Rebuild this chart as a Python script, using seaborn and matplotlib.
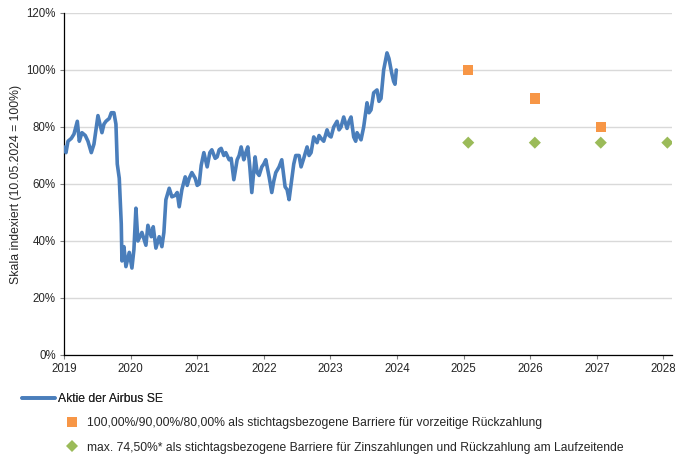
import numpy as np
import pandas as pd
import seaborn as sns
import matplotlib
matplotlib.use("Agg")
import matplotlib.pyplot as plt
from matplotlib.lines import Line2D

# ---- data ----
stock_year = [2019.00, 2019.03, 2019.06, 2019.11, 2019.15, 2019.20, 2019.23, 2019.27, 2019.32, 2019.36,
              2019.41, 2019.45, 2019.51, 2019.54, 2019.57, 2019.60, 2019.63, 2019.68, 2019.71, 2019.75,
              2019.78, 2019.80, 2019.83, 2019.86, 2019.87, 2019.90, 2019.93, 2019.98, 2020.02, 2020.05,
              2020.08, 2020.11, 2020.17, 2020.23, 2020.26, 2020.31, 2020.34, 2020.38, 2020.43, 2020.47,
              2020.50, 2020.53, 2020.58, 2020.62, 2020.67, 2020.70, 2020.73, 2020.77, 2020.82, 2020.85,
              2020.88, 2020.92, 2020.97, 2021.00, 2021.03, 2021.06, 2021.10, 2021.15, 2021.19, 2021.22,
              2021.27, 2021.30, 2021.33, 2021.36, 2021.40, 2021.43, 2021.48, 2021.51, 2021.55, 2021.60,
              2021.63, 2021.66, 2021.70, 2021.73, 2021.76, 2021.79, 2021.82, 2021.87, 2021.90, 2021.93,
              2021.97, 2022.00, 2022.03, 2022.08, 2022.12, 2022.15, 2022.18, 2022.23, 2022.27, 2022.32,
              2022.35, 2022.38, 2022.42, 2022.45, 2022.48, 2022.53, 2022.56, 2022.60, 2022.65, 2022.68,
              2022.71, 2022.75, 2022.80, 2022.83, 2022.86, 2022.90, 2022.95, 2022.98, 2023.01, 2023.05,
              2023.10, 2023.13, 2023.16, 2023.20, 2023.25, 2023.28, 2023.31, 2023.35, 2023.38, 2023.40,
              2023.46, 2023.50, 2023.55, 2023.58, 2023.61, 2023.65, 2023.70, 2023.73, 2023.76, 2023.80,
              2023.85, 2023.88, 2023.92, 2023.95, 2023.97, 2023.99]
stock_value = [73, 71, 75, 76, 77.5, 82, 75, 78, 77, 75,
               71, 74, 84, 81, 78, 81, 82, 83, 85, 85,
               81, 67, 62, 46, 33, 38, 31, 36, 30.5, 37,
               51.5, 40, 43, 38.5, 45.5, 41.5, 45, 37.5, 41.5, 38,
               43, 54.5, 58.5, 55.5, 56, 57, 52, 58, 62.5, 59.5,
               62, 64, 62, 59.5, 60, 66.5, 71, 66, 71, 72,
               69, 69.5, 72, 72.5, 70, 71, 68.5, 69, 61.5, 68.5,
               70, 73, 68.5, 71, 73, 66, 57, 69.5, 64, 63,
               66, 67, 68.5, 62.5, 57, 61, 64, 66, 68.5, 59,
               58, 54.5, 61.5, 67, 70, 70, 66, 69, 73, 70,
               71, 76.5, 74.5, 77, 76, 75, 79, 77, 76.5, 80,
               82, 79, 80, 83.5, 79.5, 82, 83.5, 76.5, 75, 78,
               75.5, 80, 88.5, 85, 86, 92, 93, 89, 90, 100,
               106, 104, 99, 96, 95, 100]

early_year = [2025.07, 2026.07, 2027.06]
early_value = [100, 90, 80]

coupon_year = [2025.07, 2026.07, 2027.06, 2028.06]
coupon_value = [74.5, 74.5, 74.5, 74.5]

x_ticks = [2019, 2020, 2021, 2022, 2023, 2024, 2025, 2026, 2027, 2028]
y_ticks = [0, 20, 40, 60, 80, 100, 120]

label_stock = "Aktie der Airbus SE"
label_early = "100,00%/90,00%/80,00% als stichtagsbezogene Barriere für vorzeitige Rückzahlung"
label_coupon = "max. 74,50%* als stichtagsbezogene Barriere für Zinszahlungen und Rückzahlung am Laufzeitende"
y_label = "Skala indexiert (10.05.2024 = 100%)"

# ---- styling ----
sns.set_theme(style="white")
plt.rcParams['font.family'] = ['Liberation Sans', 'DejaVu Sans']

blue = "#4A7EBB"
orange = "#F79646"
green = "#9BBB59"

fig = plt.figure(figsize=(6.75, 4.54), dpi=100)
ax = fig.add_axes([0.0948, 0.2181, 0.9008, 0.7533])

df_stock = pd.DataFrame({"Jahr": stock_year, "Wert": stock_value})
df_early = pd.DataFrame({"Jahr": early_year, "Wert": early_value})
df_coupon = pd.DataFrame({"Jahr": coupon_year, "Wert": coupon_value})

sns.lineplot(data=df_stock, x="Jahr", y="Wert", ax=ax, color=blue, linewidth=2.6,
             estimator=None, sort=False, zorder=3)
sns.scatterplot(data=df_early, x="Jahr", y="Wert", ax=ax, color=orange, marker="s",
                s=55, edgecolor="none", zorder=4)
sns.scatterplot(data=df_coupon, x="Jahr", y="Wert", ax=ax, color=green, marker="D",
                s=38, edgecolor="none", zorder=4)

ax.set_xlim(2019, 2028.13)
ax.set_ylim(0, 120)
ax.set_xticks(x_ticks)
ax.set_xticklabels([str(t) for t in x_ticks], fontsize=8.3)
ax.set_yticks(y_ticks)
ax.set_yticklabels([f"{t}%" for t in y_ticks], fontsize=8.3)
ax.set_xlabel("")
ax.set_ylabel(y_label, fontsize=8.8, labelpad=3)

ax.grid(axis="y", color="#D9D9D9", linewidth=1.0)
ax.grid(axis="x", visible=False)
ax.set_axisbelow(True)
for s in ["top", "right"]:
    ax.spines[s].set_visible(False)
for s in ["left", "bottom"]:
    ax.spines[s].set_color("black")
    ax.spines[s].set_linewidth(0.9)
ax.tick_params(axis="both", which="major", direction="out", length=3, width=0.8,
               color="#808080", pad=3, left=True, bottom=True)

# ---- legends ----
h1 = [Line2D([0], [0], color=blue, linewidth=2.6)]
leg1 = fig.legend(h1, [label_stock], loc="center left",
                  bbox_to_anchor=(0.032, 0.121), bbox_transform=fig.transFigure,
                  frameon=False, fontsize=8.7, handlelength=2.75, handletextpad=0.3,
                  borderaxespad=0, borderpad=0)
fig.add_artist(leg1)

h2 = [Line2D([0], [0], color=orange, marker="s", linestyle="none", markersize=7.2, markeredgewidth=0),
      Line2D([0], [0], color=green, marker="D", linestyle="none", markersize=6.0, markeredgewidth=0)]
leg2 = fig.legend(h2, [label_early, label_coupon], loc="center left",
                  bbox_to_anchor=(0.097, 0.0415), bbox_transform=fig.transFigure,
                  frameon=False, fontsize=8.7, handlelength=1.0, handletextpad=0.75,
                  labelspacing=1.05, borderaxespad=0, borderpad=0)

fig.savefig("out.png", dpi=100)
